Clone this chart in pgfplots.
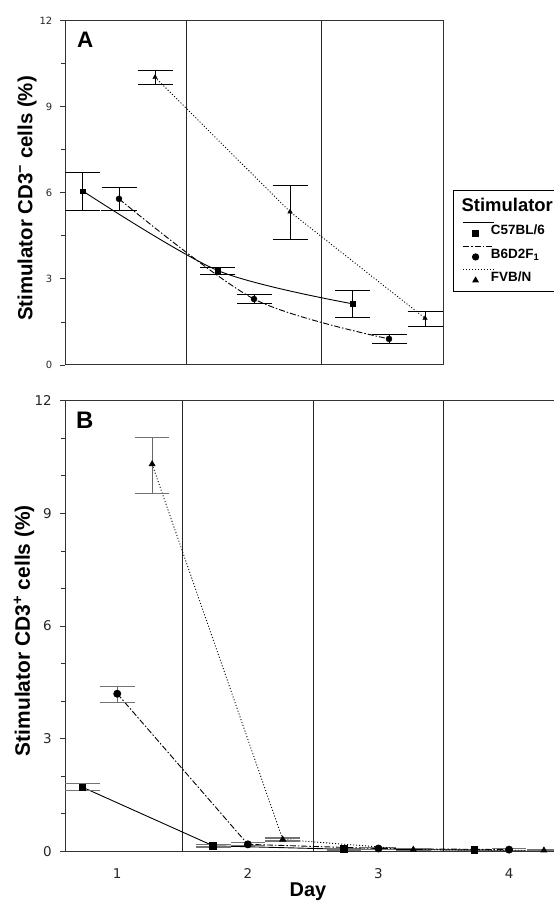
\documentclass[border=0pt]{standalone}
\usepackage{pgfplots}
\usepackage{pgfplotstable}
\pgfplotsset{compat=1.18}
\usepackage{fontspec}
\setmainfont{Liberation Sans}
\newfontfamily\tickfont{DejaVu Sans}

\pgfplotstableread{
x y ep em
0.733 6.06 0.66 0.69
1.733 3.29 0.11 0.13
2.733 2.13 0.48 0.48
}\AC
\pgfplotstableread{
x y ep em
1.0 5.79 0.39 0.42
2.0 2.30 0.16 0.15
3.0 0.91 0.16 0.15
}\AB
\pgfplotstableread{
x y ep em
1.267 10.03 0.22 0.24
2.267 5.34 0.93 0.95
3.267 1.63 0.23 0.29
}\AF
\pgfplotstableread{
x y ep em
0.735 1.71 0.10 0.09
1.735 0.15 0.03 0.03
2.735 0.06 0.02 0.02
3.735 0.04 0.02 0.02
}\BC
\pgfplotstableread{
x y ep em
1.0 4.20 0.19 0.23
2.0 0.19 0.04 0.04
3.0 0.08 0.03 0.03
4.0 0.05 0.02 0.02
}\BB
\pgfplotstableread{
x y ep em
1.267 10.31 0.70 0.78
2.267 0.32 0.04 0.04
3.267 0.05 0.02 0.02
4.267 0.03 0.01 0.01
}\BF

\pgfplotsset{
  panel/.style={
    scale only axis,
    ymin=0, ymax=12, xmin=0.6,
    ytick={0,3,6,9,12},
    ytick pos=left, xtick pos=bottom,
    axis line style={black!80, line width=1bp},
    tick align=outside,
    tick style={black!80, line width=0.9bp},
    /pgf/number format/assume math mode=true,
    yticklabel style={anchor=east, inner sep=0pt, xshift=-8bp},
    extra x tick labels={},
    extra x tick style={grid=major, major tick length=0pt,
      major grid style={black!85, line width=0.9bp}},
  },
  dd/.style={dash pattern=on 6bp off 2bp on 1.5bp off 2bp},
  dt/.style={dash pattern=on 1bp off 2bp},
}

\begin{document}
\begin{tikzpicture}
% ---------------- Panel A ----------------
\begin{axis}[panel,
  at={(65bp,537bp)}, anchor=south west,
  width=378bp, height=344.3bp, xmax=3.4,
  xtick=\empty,
  extra x ticks={1.5,2.5},
  minor y tick num=1,
  major tick length=4.5bp, minor tick length=3.5bp,
  yticklabel style={font=\fontsize{10}{12}\tickfont, text=black!85},
  ylabel={Stimulator CD3\textsuperscript{−} cells (\%)},
  ylabel style={font=\fontsize{20.5}{22}\bfseries, inner sep=0pt,
    at={(axis description cs:-0.1005,0.4836)}, anchor=center},
  legend cell align=left,
  legend style={at={(axis description cs:1.0272,0.5083)}, anchor=north west,
    draw=black, line width=1.2bp, inner xsep=9bp, inner ysep=8bp,
    row sep=7.65bp, column sep=2.3bp, nodes={inner sep=0pt},
    font=\fontsize{13.5}{15}\bfseries},
  legend image code/.code={%
    \draw[#1, mark=none, overlay] (0bp,8bp) -- (30.5bp,8bp);
    \draw[#1, solid] plot coordinates {(12.3bp,-3bp)};
    \path (0bp,9bp) (25bp,-6bp);
  },
]
\addlegendimage{empty legend}
\addlegendentry{\hspace{-29.3bp}\fontsize{18.5}{20}\bfseries Stimulator\rule[-5.4bp]{0pt}{18.3bp}}
\addlegendimage{black, line width=0.8bp, solid, mark=square*, mark size=2.8bp}
\addlegendentry{C57BL/6\rule[-2bp]{0pt}{11.7bp}}
\addlegendimage{black, line width=0.8bp, dd, mark=*, mark size=3.2bp}
\addlegendentry{B6D2F\textsubscript{1}\rule[-2bp]{0pt}{11.7bp}}
\addlegendimage{black, line width=0.8bp, dt, mark=triangle*, mark size=3.2bp}
\addlegendentry{FVB/N\rule[-2bp]{0pt}{11.7bp}}

% fitted curves
\addplot[forget plot, black, line width=0.9bp, smooth, no marks] table[x=x,y=y] {\AC};
\addplot[forget plot, black, line width=0.9bp, smooth, no marks, dd] table[x=x,y=y] {\AB};
\addplot[forget plot, black, line width=0.9bp, no marks, dt] table[x=x,y=y] {\AF};
% means with error bars
\addplot[forget plot, only marks, black, mark=square*, mark size=2.3bp,
  error bars/.cd, y dir=both, y explicit,
  error mark options={rotate=90, mark size=17.5bp, line width=1bp, black},
  error bar style={line width=1bp, black}]
  table[x=x, y=y, y error plus=ep, y error minus=em] {\AC};
\addplot[forget plot, only marks, black, mark=*, mark size=3bp,
  error bars/.cd, y dir=both, y explicit,
  error mark options={rotate=90, mark size=17.5bp, line width=1bp, black},
  error bar style={line width=1bp, black}]
  table[x=x, y=y, y error plus=ep, y error minus=em] {\AB};
\addplot[forget plot, only marks, black, mark=triangle*, mark size=2.6bp,
  error bars/.cd, y dir=both, y explicit,
  error mark options={rotate=90, mark size=17.5bp, line width=1bp, black},
  error bar style={line width=1bp, black}]
  table[x=x, y=y, y error plus=ep, y error minus=em] {\AF};
\node[anchor=north west, inner sep=0pt, font=\fontsize{22.5}{24}\bfseries,
  xshift=12bp, yshift=-11.3bp] at (rel axis cs:0,1) {A};
\end{axis}

% ---------------- Panel B ----------------
\begin{axis}[panel,
  at={(65bp,50.5bp)}, anchor=south west,
  width=496.3bp, height=450.8bp, xmax=4.4,
  xtick={1,2,3,4},
  xtick style={draw=none},
  extra x ticks={1.5,2.5,3.5},
  minor y tick num=2,
  major tick length=5bp, minor tick length=3.5bp,
  yticklabel style={font=\fontsize{13.5}{15}\tickfont, text=black!85},
  xticklabel style={font=\fontsize{13.5}{15}\tickfont, text=black!85,
    anchor=north, inner sep=0pt, yshift=-11.5bp},
  ylabel={Stimulator CD3\textsuperscript{+} cells (\%)},
  ylabel style={font=\fontsize{21}{23}\bfseries, inner sep=0pt,
    at={(axis description cs:-0.0826,0.490)}, anchor=center},
  xlabel={Day},
  xlabel style={font=\fontsize{20}{22}\bfseries, inner sep=0pt,
    at={(axis description cs:0.4896,0)}, anchor=north, yshift=-31.5bp},
]
\addplot[black, line width=0.9bp, mark=square*, mark size=3.3bp, mark options={solid},
  error bars/.cd, y dir=both, y explicit,
  error mark options={rotate=90, mark size=17.3bp, line width=1.1bp, black!55},
  error bar style={line width=1.1bp, black!60}]
  table[x=x, y=y, y error plus=ep, y error minus=em] {\BC};
\addplot[black, line width=0.9bp, dd, mark=*, mark size=3.5bp, mark options={solid},
  error bars/.cd, y dir=both, y explicit,
  error mark options={rotate=90, mark size=17.3bp, line width=1.1bp, black!55, solid},
  error bar style={line width=1.1bp, black!60, solid}]
  table[x=x, y=y, y error plus=ep, y error minus=em] {\BB};
\addplot[black, line width=0.9bp, dt, mark=triangle*, mark size=3.2bp, mark options={solid},
  error bars/.cd, y dir=both, y explicit,
  error mark options={rotate=90, mark size=17.3bp, line width=1.1bp, black!55, solid},
  error bar style={line width=1.1bp, black!60, solid}]
  table[x=x, y=y, y error plus=ep, y error minus=em] {\BF};
\node[anchor=north west, inner sep=0pt, font=\fontsize{24}{26}\bfseries,
  xshift=11bp, yshift=-11.3bp] at (rel axis cs:0,1) {B};
\end{axis}
\pgfresetboundingbox
\path[use as bounding box] (0bp,0bp) rectangle (554bp,902bp);
\end{tikzpicture}
\end{document}
